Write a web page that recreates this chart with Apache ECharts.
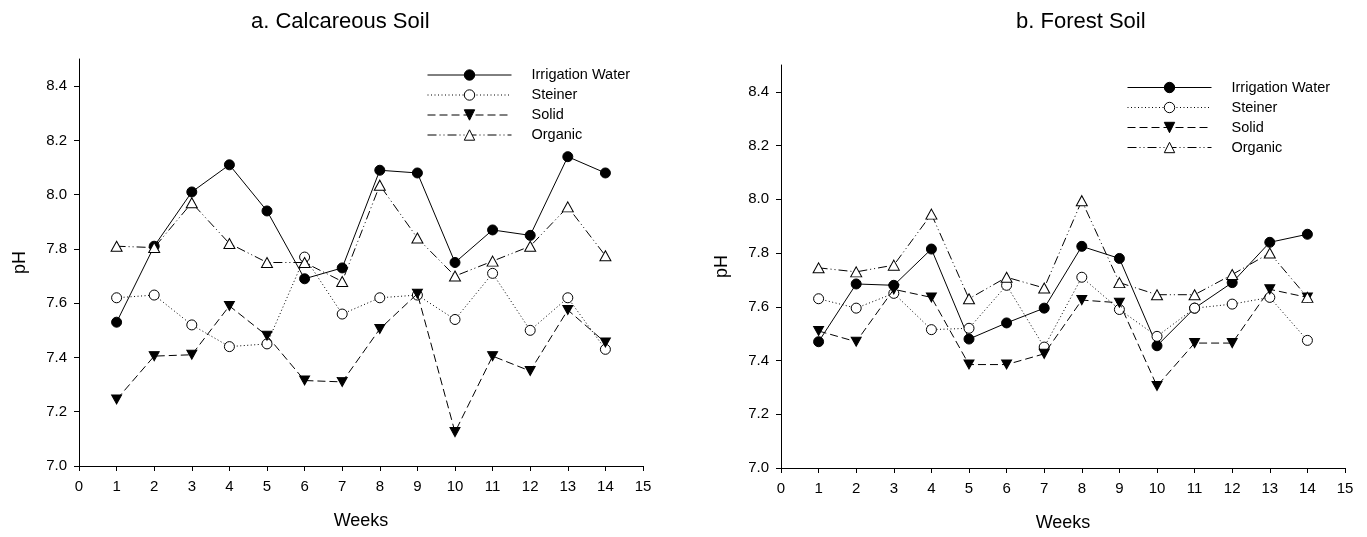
<!DOCTYPE html>
<html>
<head>
<meta charset="utf-8">
<script src="https://cdn.jsdelivr.net/npm/echarts@6/dist/echarts.min.js"></script>
<style>html,body{margin:0;padding:0;background:#fff}#c{width:1367px;height:537px}</style>
</head>
<body>
<div id="c"></div>
<script>
const weeks = [1,2,3,4,5,6,7,8,9,10,11,12,13,14];
const xTicks = [0,1,2,3,4,5,6,7,8,9,10,11,12,13,14,15];
const yTicks = [7.0,7.2,7.4,7.6,7.8,8.0,8.2,8.4];
const seriesNames = ['Irrigation Water','Steiner','Solid','Organic'];
const panelTitles = ['a. Calcareous Soil','b. Forest Soil'];

const calcIrrigation = [7.53,7.81,8.01,8.11,7.94,7.69,7.73,8.09,8.08,7.75,7.87,7.85,8.14,8.08];
const calcSteiner    = [7.62,7.63,7.52,7.44,7.45,7.77,7.56,7.62,7.63,7.54,7.71,7.50,7.62,7.43];
const calcSolid      = [7.245,7.405,7.41,7.59,7.48,7.315,7.31,7.505,7.635,7.125,7.405,7.35,7.575,7.455];
const calcOrganic    = [7.81,7.805,7.97,7.82,7.75,7.75,7.68,8.035,7.84,7.70,7.755,7.81,7.955,7.775];

const forestIrrigation = [7.47,7.685,7.68,7.815,7.48,7.54,7.595,7.825,7.78,7.455,7.595,7.69,7.84,7.87];
const forestSteiner    = [7.63,7.595,7.65,7.515,7.52,7.68,7.45,7.71,7.59,7.49,7.595,7.61,7.635,7.475];
const forestSolid      = [7.51,7.47,7.665,7.635,7.385,7.385,7.425,7.625,7.615,7.305,7.465,7.465,7.665,7.635];
const forestOrganic    = [7.745,7.73,7.755,7.945,7.63,7.71,7.67,7.995,7.69,7.645,7.645,7.72,7.80,7.635];

const FONT = "'Liberation Sans', Arial, sans-serif";
const downTri = 'path://M0,0 L10,0 L5,9 Z';
const styles = [
  {symbol:'circle', size:10, fill:'#000', dash:'solid'},
  {symbol:'circle', size:10, fill:'#fff', dash:[1,2.5]},
  {symbol:downTri, size:[10,9], fill:'#000', dash:[8,4]},
  {symbol:'triangle', size:[11,10], fill:'#fff', dash:[9,3,1,3,1,3]}
];

const panels = [
  {data:[calcIrrigation,calcSteiner,calcSolid,calcOrganic]},
  {data:[forestIrrigation,forestSteiner,forestSolid,forestOrganic]}
];

const grids = [
  {left:79, right:724, top:59, bottom:71},
  {left:781, right:22, top:65, bottom:65}
];

const xAxes = grids.map((g,i)=>({
  type:'value', gridIndex:i, min:0, max:15, interval:1,
  axisLine:{show:true, lineStyle:{color:'#000', width:1}},
  axisTick:{show:true, length:5, inside:false, lineStyle:{color:'#000'}},
  splitLine:{show:false},
  axisLabel:{color:'#000', fontSize:15, fontFamily:FONT, margin:13},
  name:'Weeks', nameLocation:'middle', nameGap:46,
  nameTextStyle:{color:'#000', fontSize:18, fontFamily:FONT}
}));
const yAxes = grids.map((g,i)=>({
  type:'value', gridIndex:i, min:7.0, max:8.5,
  axisLine:{show:true, lineStyle:{color:'#000', width:1}},
  axisTick:{show:true, length:5, inside:false, lineStyle:{color:'#000'}, customValues:yTicks},
  splitLine:{show:false},
  axisLabel:{color:'#000', fontSize:15, fontFamily:FONT, margin:12, customValues:yTicks,
    formatter:v=>Number(v).toFixed(1)},
  name:'pH', nameLocation:'middle', nameGap:50,
  nameTextStyle:{color:'#000', fontSize:18, fontFamily:FONT}
}));

const series = [];
panels.forEach((p,pi)=>{
  p.data.forEach((vals,si)=>{
    const st = styles[si];
    series.push({
      name:seriesNames[si], type:'line', xAxisIndex:pi, yAxisIndex:pi,
      data:weeks.map((w,k)=>[w, vals[k]]),
      symbol:st.symbol, symbolSize:st.size, showSymbol:true,
      lineStyle:{color:'#000', width:1, type:st.dash},
      itemStyle:{color:st.fill, borderColor:'#000', borderWidth:1},
      emphasis:{disabled:true}, animation:false, z:2+si
    });
  });
});

const legendBase = {
  data:seriesNames, orient:'vertical', itemWidth:84, itemHeight:13, itemGap:5, padding:0,
  textStyle:{color:'#000', fontSize:14.5, lineHeight:13, fontFamily:FONT, padding:[0,0,0,15]},
  lineStyle:{width:1},
  itemStyle:{borderWidth:1},
  selectedMode:false
};

const option = {
  backgroundColor:'#fff',
  animation:false,
  title:[
    {text:panelTitles[0], left:251, top:11, padding:0, textStyle:{color:'#000', fontSize:22, fontWeight:'normal', fontFamily:FONT}},
    {text:panelTitles[1], left:1016, top:11, padding:0, textStyle:{color:'#000', fontSize:22, fontWeight:'normal', fontFamily:FONT}}
  ],
  legend:[
    Object.assign({left:427, top:67.5}, legendBase),
    Object.assign({left:1127, top:80}, legendBase)
  ],
  grid:grids,
  xAxis:xAxes,
  yAxis:yAxes,
  series:series
};

const chart = echarts.init(document.getElementById('c'), null, {renderer:'canvas'});
chart.setOption(option);
</script>
</body>
</html>
